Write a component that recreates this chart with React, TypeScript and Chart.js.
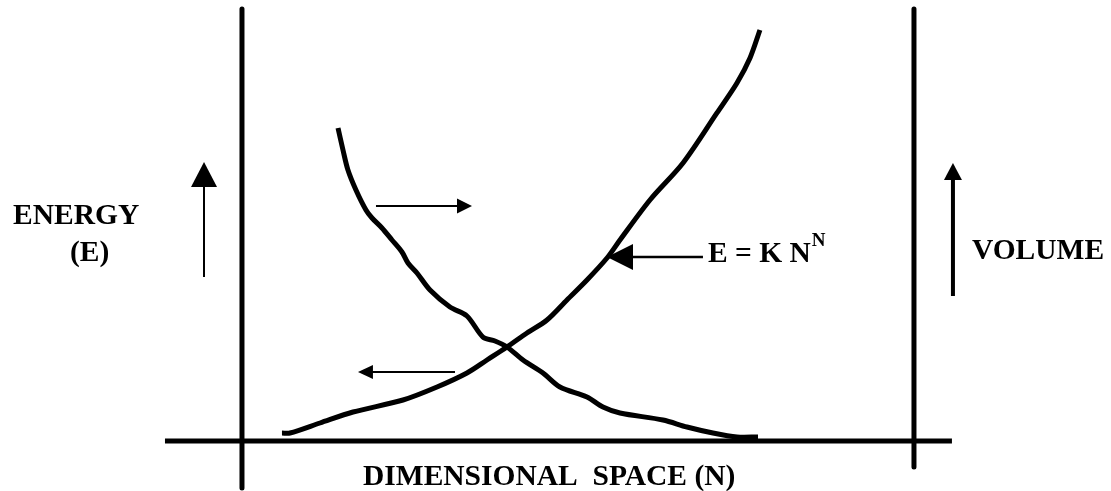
import React, { useEffect, useRef } from "react";
import { Chart, registerables } from "chart.js";

Chart.register(...registerables);

// ---- Data (arbitrary frame units: left frame = 0, right frame = 100, baseline = 0, top = 100) ----
const risingN = [5.95, 7.14, 11.61, 16.52, 23.96, 29.02, 33.48, 36.46, 39.43, 42.41, 45.39, 48.36, 51.34, 54.32, 56.25, 60.71, 65.63, 70.68, 73.66, 75.6, 77.08];
const risingE = [1.85, 1.85, 4.17, 6.71, 9.49, 12.5, 15.74, 18.75, 21.76, 25.0, 28.01, 32.64, 37.27, 42.36, 46.53, 55.79, 64.35, 75.93, 82.87, 88.66, 95.14];

const fallingN = [14.29, 15.03, 15.77, 16.96, 18.45, 19.35, 20.83, 22.32, 23.81, 24.7, 26.04, 27.98, 30.95, 33.48, 35.86, 37.65, 39.43, 41.82, 44.79, 47.32, 51.34, 53.72, 56.25, 62.65, 66.22, 70.09, 73.66, 76.79];
const fallingV = [72.45, 67.36, 62.73, 58.1, 53.47, 51.62, 49.31, 46.53, 43.75, 41.2, 38.89, 34.95, 31.02, 28.94, 24.07, 23.15, 21.76, 18.75, 15.74, 12.5, 10.19, 7.87, 6.48, 4.86, 3.24, 1.85, 0.93, 0.93];

// frame lines
const leftAxisN = [0, 0];
const leftAxisE = [100, -10.88];
const rightAxisN = [100, 100];
const rightAxisE = [100, -6.02];
const baseN = [-11.46, 105.65];
const baseE = [0, 0];

// arrows: [fromN, fromE, toN, toE]
const energyArrow = [-5.65, 37.96, -5.65, 64.58];
const volumeArrow = [105.8, 33.56, 105.8, 64.35];
const rightArrow = [19.94, 54.4, 34.23, 54.4];
const leftArrow = [31.7, 15.97, 17.26, 15.97];
const formulaArrow = [68.6, 42.59, 54.32, 42.59];

// text labels
const labelTexts = ["ENERGY", "(E)", "VOLUME", "E = K N", "DIMENSIONAL  SPACE (N)"];
const superscriptText = "N";

// ---- Layout / styles ----
const W = 1111;
const H = 491;
const X_MIN = -36.01;
const X_MAX = 129.32;
const Y_MIN = -11.57;
const Y_MAX = 102.08;

const FONT = "bold 29.5px 'Liberation Serif', 'Times New Roman', serif";
const SUP_FONT = "bold 19px 'Liberation Serif', 'Times New Roman', serif";

const labelAnchors: [number, number][] = [
  [-34.08, 50.23],
  [-25.6, 41.67],
  [108.63, 42.13],
  [69.35, 41.44],
  [18.01, -10.19],
];

const arrowStyles = [
  { arrow: energyArrow, shaft: 2, head: 25, half: 13 },
  { arrow: volumeArrow, shaft: 4, head: 17, half: 9 },
  { arrow: rightArrow, shaft: 2, head: 15, half: 7.5 },
  { arrow: leftArrow, shaft: 2, head: 15, half: 7 },
  { arrow: formulaArrow, shaft: 2.5, head: 26, half: 13 },
];

const zip = (xs: number[], ys: number[]) => xs.map((x, i) => ({ x, y: ys[i] }));

const annotationPlugin = {
  id: "diagramAnnotations",
  afterDatasetsDraw(chart: any) {
    const ctx: CanvasRenderingContext2D = chart.ctx;
    const xs = chart.scales.x;
    const ys = chart.scales.y;
    ctx.save();
    ctx.fillStyle = "#000";
    ctx.strokeStyle = "#000";

    // arrows
    for (const a of arrowStyles) {
      const [fx, fy, tx, ty] = a.arrow;
      const x0 = xs.getPixelForValue(fx);
      const y0 = ys.getPixelForValue(fy);
      const x1 = xs.getPixelForValue(tx);
      const y1 = ys.getPixelForValue(ty);
      const dx = x1 - x0;
      const dy = y1 - y0;
      const len = Math.hypot(dx, dy);
      const ux = dx / len;
      const uy = dy / len;
      const bx = x1 - ux * a.head;
      const by = y1 - uy * a.head;
      ctx.lineWidth = a.shaft;
      ctx.lineCap = "butt";
      ctx.beginPath();
      ctx.moveTo(x0, y0);
      ctx.lineTo(bx + ux * 1, by + uy * 1);
      ctx.stroke();
      ctx.beginPath();
      ctx.moveTo(x1, y1);
      ctx.lineTo(bx - uy * a.half, by + ux * a.half);
      ctx.lineTo(bx + uy * a.half, by - ux * a.half);
      ctx.closePath();
      ctx.fill();
    }

    // labels
    ctx.font = FONT;
    ctx.textAlign = "left";
    ctx.textBaseline = "alphabetic";
    labelTexts.forEach((t, i) => {
      const [lx, ly] = labelAnchors[i];
      const px = xs.getPixelForValue(lx);
      const py = ys.getPixelForValue(ly);
      ctx.fillText(t, px, py);
      if (t === "E = K N") {
        const w = ctx.measureText(t).width;
        ctx.font = SUP_FONT;
        ctx.fillText(superscriptText, px + w + 1, py - 16);
        ctx.font = FONT;
      }
    });
    ctx.restore();
  },
};

export default function App() {
  const canvasRef = useRef<HTMLCanvasElement | null>(null);

  useEffect(() => {
    document.body.style.margin = "0";
    const canvas = canvasRef.current;
    if (!canvas) return;
    const lineDs = (data: { x: number; y: number }[], width: number, tension = 0) => ({
      data,
      showLine: true,
      borderColor: "#000",
      backgroundColor: "#000",
      borderWidth: width,
      pointRadius: 0,
      pointHoverRadius: 0,
      tension,
      fill: false,
      borderCapStyle: "butt" as const,
      borderJoinStyle: "round" as const,
    });
    const chart = new Chart(canvas, {
      type: "scatter",
      data: {
        datasets: [
          lineDs(zip(leftAxisN, leftAxisE), 5),
          lineDs(zip(rightAxisN, rightAxisE), 5),
          lineDs(zip(baseN, baseE), 5),
          lineDs(zip(risingN, risingE), 5, 0.3),
          lineDs(zip(fallingN, fallingV), 5, 0.3),
        ],
      },
      options: {
        responsive: false,
        animation: false,
        events: [],
        layout: { padding: 0 },
        plugins: { legend: { display: false }, tooltip: { enabled: false }, title: { display: false } },
        scales: {
          x: { type: "linear", display: false, min: X_MIN, max: X_MAX },
          y: { type: "linear", display: false, min: Y_MIN, max: Y_MAX },
        },
      },
      plugins: [annotationPlugin],
    });
    return () => chart.destroy();
  }, []);

  return (
    <div style={{ position: "fixed", left: 0, top: 0, width: W, height: H, background: "#fff" }}>
      <canvas ref={canvasRef} width={W} height={H} style={{ width: W, height: H, display: "block" }} />
    </div>
  );
}
